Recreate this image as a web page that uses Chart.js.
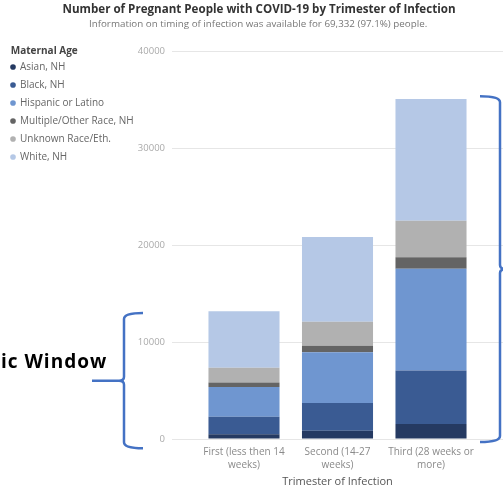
<!DOCTYPE html>
<html>
<head>
<meta charset="utf-8">
<script src="https://cdn.jsdelivr.net/npm/chart.js@4"></script>
<style>
  html, body { margin: 0; padding: 0; background: #fff; }
  #wrap { position: relative; width: 503px; height: 490px; }
</style>
</head>
<body>
<div id="wrap"><canvas id="trimesterChart"></canvas></div>
<script>
// Kategórie (trimestre) a hodnoty podľa rasy/etnicity
const trimesterLabels = [
    ['First (less then 14', 'weeks)'],
    ['Second (14-27', 'weeks)'],
    ['Third (28 weeks or', 'more)']
];
const asianNH = [500, 850, 1550];
const blackNH = [1790, 2880, 5520];
const hispanic = [3090, 5240, 10520];
const multipleNH = [450, 650, 1170];
const unknownRace = [1540, 2500, 3770];
const whiteNH = [5830, 8740, 12580];
const yTicks = [0, 10000, 20000, 30000, 40000];

const FONT = "'Segoe UI', 'Open Sans', sans-serif";
const BRACKET_BLUE = '#4472c4';

const toPoints = arr => arr.map((v, i) => ({ x: i, y: v }));

// Anotácie zo screenshotu (zátvorky + text)
const annotations = {
    id: 'annotations',
    afterDraw(chart) {
        const { ctx } = chart;
        const y = chart.scales.y;
        ctx.save();
        ctx.strokeStyle = BRACKET_BLUE;
        ctx.lineWidth = 2.5;
        ctx.lineJoin = 'round';

        // ľavá zátvorka (otvára sa doprava)
        const lTop = y.getPixelForValue(13000);
        const lBot = y.getPixelForValue(-950);
        const lMid = (lTop + lBot) / 2;
        ctx.beginPath();
        ctx.moveTo(143, lTop);
        ctx.quadraticCurveTo(124, lTop, 124, lTop + 6);
        ctx.lineTo(124, lMid - 4);
        ctx.quadraticCurveTo(124, lMid, 119, lMid);
        ctx.lineTo(92, lMid);
        ctx.moveTo(119, lMid);
        ctx.quadraticCurveTo(124, lMid, 124, lMid + 4);
        ctx.lineTo(124, lBot - 6);
        ctx.quadraticCurveTo(124, lBot, 143, lBot);
        ctx.stroke();

        // pravá zátvorka (otvára sa doľava)
        const rTop = y.getPixelForValue(35400);
        const rBot = y.getPixelForValue(-300);
        const rMid = (rTop + rBot) / 2;
        ctx.beginPath();
        ctx.moveTo(480, rTop);
        ctx.quadraticCurveTo(500, rTop, 500, rTop + 6);
        ctx.lineTo(500, rMid - 4);
        ctx.quadraticCurveTo(500, rMid, 506, rMid);
        ctx.moveTo(506, rMid);
        ctx.quadraticCurveTo(500, rMid, 500, rMid + 4);
        ctx.lineTo(500, rBot - 6);
        ctx.quadraticCurveTo(500, rBot, 480, rBot);
        ctx.stroke();

        ctx.fillStyle = '#000';
        ctx.font = "bold 19px 'Open Sans', 'Noto Sans', sans-serif";
        ctx.letterSpacing = '1px';
        ctx.textBaseline = 'middle';
        ctx.textAlign = 'left';
        ctx.fillText('ic Window', 1, y.getPixelForValue(7900));
        ctx.restore();
    }
};

const ds = (label, data, color) => ({
    label,
    data: toPoints(data),
    backgroundColor: color,
    borderWidth: 0
});

new Chart(document.getElementById('trimesterChart'), {
    type: 'bar',
    data: {
        datasets: [
            ds('Asian, NH', asianNH, '#253a62'),
            ds('Black, NH', blackNH, '#3a5b93'),
            ds('Hispanic or Latino', hispanic, '#6f96d0'),
            ds('Multiple/Other Race, NH', multipleNH, '#646464'),
            ds('Unknown Race/Eth.', unknownRace, '#b1b1b1'),
            ds('White, NH', whiteNH, '#b5c8e6')
        ]
    },
    options: {
        responsive: true,
        maintainAspectRatio: false,
        animation: false,
        categoryPercentage: 1,
        barPercentage: 0.76,
        layout: { padding: { left: 3, right: 0, top: 0, bottom: 2 } },
        scales: {
            x: {
                type: 'linear',
                stacked: true,
                offset: false,
                min: -0.77,
                max: 2.77,
                afterBuildTicks: axis => { axis.ticks = trimesterLabels.map((_, i) => ({ value: i })); },
                afterFit: axis => { axis.height = 49; },
                ticks: {
                    autoSkip: false,
                    maxRotation: 0,
                    padding: 7,
                    color: '#8a8a8a',
                    font: { family: FONT, size: 10, lineHeight: 1.25 },
                    callback: v => trimesterLabels[v]
                },
                grid: { display: false, drawTicks: false },
                border: { display: false },
                title: {
                    display: true,
                    text: 'Trimester of Infection',
                    color: '#555',
                    font: { family: FONT, size: 11 },
                    padding: { top: 3, bottom: 0 }
                }
            },
            y: {
                stacked: true,
                min: 0,
                max: 40000,
                afterBuildTicks: axis => { axis.ticks = yTicks.map(v => ({ value: v })); },
                afterFit: axis => { axis.width = 35; },
                ticks: {
                    padding: 7,
                    color: '#aaaaaa',
                    font: { family: FONT, size: 9.5 },
                    callback: v => String(v)
                },
                grid: { color: '#e6e6e6', drawTicks: false },
                border: { display: false }
            }
        },
        plugins: {
            title: {
                display: true,
                text: '    Number of Pregnant People with COVID-19 by Trimester of Infection',
                color: '#333',
                font: { family: FONT, size: 11.6, weight: 'bold' },
                padding: { top: 3, bottom: 0 }
            },
            subtitle: {
                display: true,
                text: '    Information on timing of infection was available for 69,332 (97.1%) people.',
                color: '#777',
                font: { family: FONT, size: 9.8 },
                padding: { top: 1, bottom: 22 }
            },
            legend: {
                position: 'left',
                align: 'start',
                maxWidth: 134,
                title: {
                    display: true,
                    text: '   Maternal Age',
                    position: 'start',
                    color: '#444',
                    font: { family: FONT, size: 10, weight: 'bold', lineHeight: 0.8 },
                    padding: { top: 46, bottom: 0 }
                },
                labels: {
                    usePointStyle: true,
                    pointStyle: 'circle',
                    boxWidth: 4,
                    boxHeight: 4,
                    padding: 8,
                    color: '#666',
                    font: { family: FONT, size: 10 }
                }
            },
            tooltip: { enabled: false }
        }
    },
    plugins: [annotations]
});
</script>
</body>
</html>
